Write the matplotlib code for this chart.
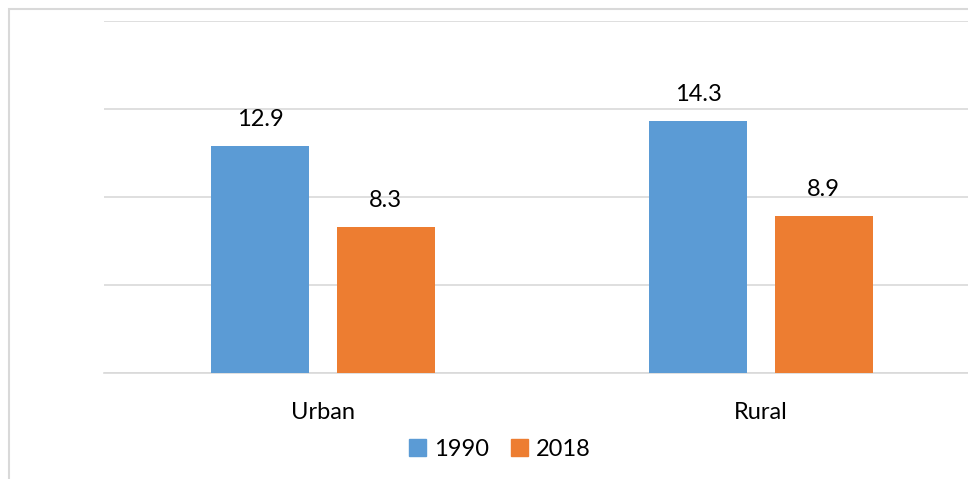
import matplotlib
matplotlib.use("Agg")
import matplotlib.pyplot as plt
from matplotlib.patches import Rectangle, Patch
import numpy as np

categories = ["Urban", "Rural"]
series_names = ["1990", "2018"]
values_1990 = [12.9, 14.3]
values_2018 = [8.3, 8.9]
colors = ["#5B9BD5", "#ED7D31"]

plt.rcParams['font.family'] = ['Lato', 'DejaVu Sans']
FS = 17

fig = plt.figure(figsize=(9.68, 4.79), dpi=100)
fig.patches.append(Rectangle((9/968, -0.1), 1.2, 1 - 9/479 + 0.1, transform=fig.transFigure,
                             fill=False, edgecolor="#D9D9D9", linewidth=1.5))

ax = fig.add_axes([104/968, 1 - 373/479, 876/968, 352/479])
x = np.arange(len(categories))
w = 0.224
off = 0.143
for vals, name, col, sgn in [(values_1990, series_names[0], colors[0], -1),
                             (values_2018, series_names[1], colors[1], 1)]:
    bars = ax.bar(x + sgn * off, vals, width=w, color=col, label=name, zorder=3)
    for b, v in zip(bars, vals):
        ax.annotate(f"{v}", (b.get_x() + b.get_width() / 2, v), xytext=(0, 14.4),
                    textcoords="offset points", ha="center", va="baseline", fontsize=FS, color="black")

ax.set_xlim(-0.5, 1.5)
ax.set_ylim(0, 20)
ax.set_yticks([0, 5, 10, 15, 20])
ax.set_yticklabels([])
ax.tick_params(axis="y", length=0)
ax.grid(axis="y", color="#D9D9D9", linewidth=1.2, zorder=0)
ax.set_xticks(x)
ax.set_xticklabels(categories, fontsize=FS)
ax.tick_params(axis="x", length=0, pad=21)
for s in ["top", "right", "left"]:
    ax.spines[s].set_visible(False)
ax.spines["bottom"].set_color("#D9D9D9")
ax.spines["bottom"].set_linewidth(1.2)

handles = [Patch(color=colors[0], label=series_names[0]), Patch(color=colors[1], label=series_names[1])]
fig.legend(handles=handles, loc="center", bbox_to_anchor=(500/968, 1 - 449/479), ncol=2, frameon=False,
           fontsize=FS, handlelength=0.72, handleheight=0.72, handletextpad=0.34, columnspacing=0.93,
           borderpad=0)

fig.savefig("out.png", dpi=100)
